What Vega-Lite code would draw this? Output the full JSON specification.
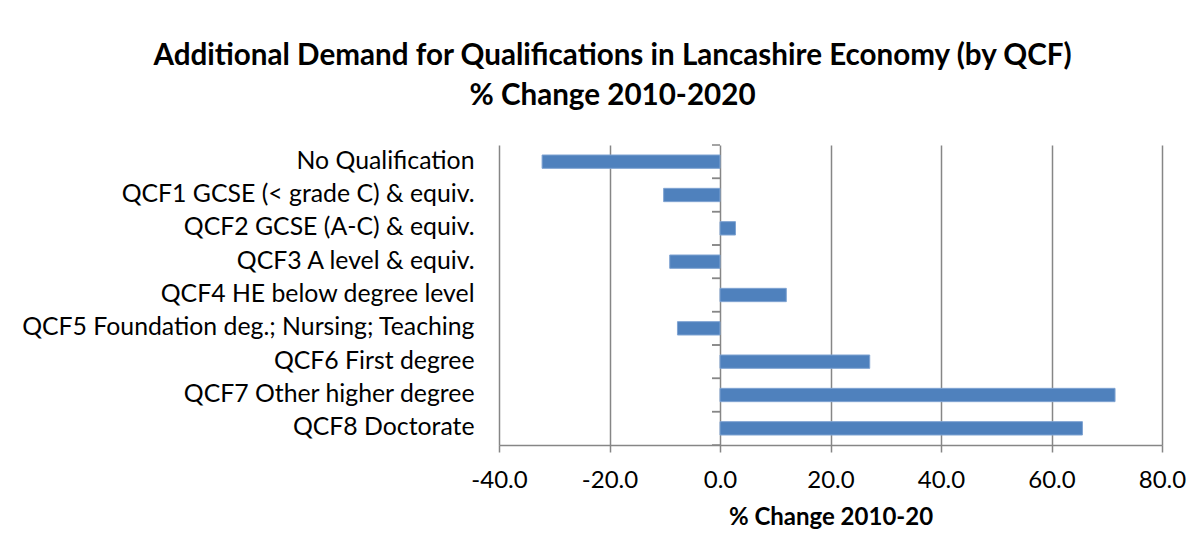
{
  "$schema": "https://vega.github.io/schema/vega-lite/v6.json",
  "width": 663,
  "height": 300,
  "autosize": {"type": "none"},
  "padding": {"left": 499, "top": 145, "right": 40, "bottom": 112},
  "background": "white",
  "title": {
    "text": ["Additional Demand for Qualifications in Lancashire Economy (by QCF)", "% Change 2010-2020"],
    "anchor": "middle",
    "frame": "group",
    "dx": -218,
    "offset": 33,
    "font": "Lato",
    "fontSize": 29.6,
    "fontWeight": "bold",
    "lineHeight": 40,
    "color": "#000000"
  },
  "config": {
    "view": {"stroke": null},
    "font": "Lato"
  },
  "data": {
    "values": [
      {"cat": "No Qualification", "pct": -32.2},
      {"cat": "QCF1 GCSE (< grade C) & equiv.", "pct": -10.2},
      {"cat": "QCF2 GCSE (A-C) & equiv.", "pct": 2.8},
      {"cat": "QCF3 A level & equiv.", "pct": -9.1},
      {"cat": "QCF4 HE below degree level", "pct": 12.0},
      {"cat": "QCF5 Foundation deg.; Nursing; Teaching", "pct": -7.7},
      {"cat": "QCF6 First degree", "pct": 27.1},
      {"cat": "QCF7 Other higher degree", "pct": 71.5},
      {"cat": "QCF8 Doctorate", "pct": 65.6}
    ]
  },
  "encoding": {
    "y": {
      "field": "cat",
      "type": "nominal",
      "sort": null,
      "scale": {"paddingInner": 0, "paddingOuter": 0},
      "axis": {
        "title": null,
        "domain": false,
        "ticks": false,
        "grid": false,
        "labelFont": "Lato",
        "labelFontSize": 24.8,
        "labelColor": "#000000",
        "labelPadding": 25,
        "labelLimit": 600
      }
    }
  },
  "layer": [
    {
      "mark": {"type": "bar", "height": {"band": 0.4}, "color": "#4F81BD", "stroke": "#7FA3D2", "strokeWidth": 1},
      "encoding": {
        "x": {
          "field": "pct",
          "type": "quantitative",
          "scale": {"domain": [-40, 80], "nice": false},
          "axis": {
            "values": [-40, -20, 0, 20, 40, 60, 80],
            "labelExpr": "(datum.value < 0 ? '-' : '') + format(abs(datum.value), '.1f')",
            "labelFlush": false,
            "labelOverlap": false,
            "title": "% Change 2010-20",
            "titleFont": "Lato",
            "titleFontSize": 24,
            "titleFontWeight": "bold",
            "titleColor": "#000000",
            "titlePadding": 13,
            "grid": true,
            "gridColor": "#868686",
            "gridWidth": 1.5,
            "domainColor": "#868686",
            "domainWidth": 1.5,
            "tickColor": "#868686",
            "tickWidth": 1.5,
            "tickSize": 7,
            "labelFont": "Lato",
            "labelFontSize": 24,
            "labelColor": "#000000",
            "labelPadding": 16
          }
        }
      }
    },
    {
      "mark": {"type": "rule", "color": "#868686", "strokeWidth": 1.5},
      "encoding": {
        "x": {"datum": -1.45, "type": "quantitative"},
        "x2": {"datum": 0},
        "y": {"field": "cat", "type": "nominal", "sort": null, "bandPosition": 0}
      }
    },
    {
      "mark": {"type": "rule", "color": "#868686", "strokeWidth": 1.5},
      "encoding": {
        "x": {"datum": -1.45, "type": "quantitative"},
        "x2": {"datum": 0},
        "y": {"field": "cat", "type": "nominal", "sort": null, "bandPosition": 1}
      }
    }
  ]
}
